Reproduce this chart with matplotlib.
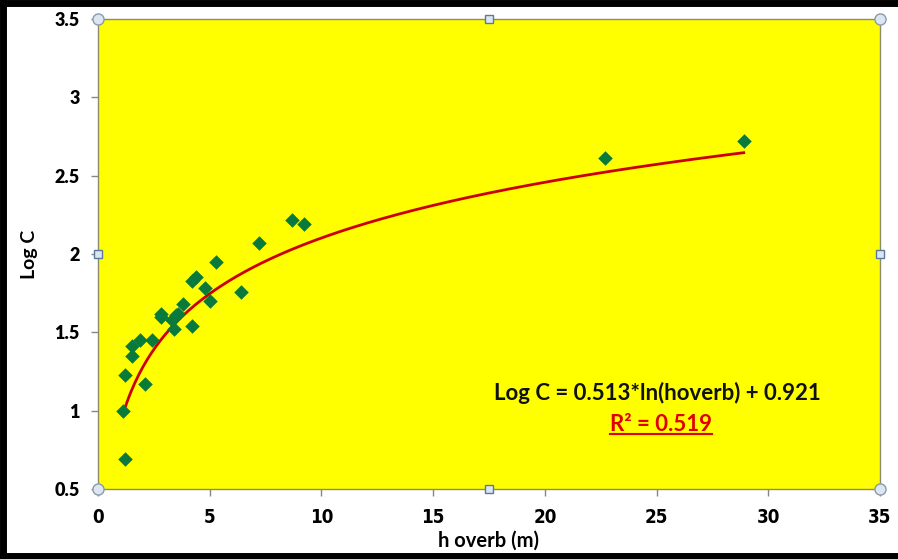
import numpy as np
import matplotlib
matplotlib.use("Agg")
import matplotlib.pyplot as plt
from matplotlib.lines import Line2D

# Data
h_overb = [1.1, 1.2, 1.2, 1.5, 1.5, 1.9, 2.1, 2.4, 2.8, 2.8, 3.4, 3.3, 3.5, 3.6,
           3.8, 4.2, 4.2, 4.4, 4.8, 5.0, 5.3, 6.4, 7.2, 8.7, 9.2, 22.7, 28.9]
log_c = [1.00, 0.69, 1.23, 1.35, 1.41, 1.45, 1.17, 1.45, 1.62, 1.60, 1.52, 1.58,
         1.61, 1.62, 1.68, 1.54, 1.83, 1.85, 1.78, 1.70, 1.95, 1.76, 2.07, 2.22,
         2.19, 2.61, 2.72]
fit_a = 0.513
fit_b = 0.921
r2 = 0.519
x_ticks = [0, 5, 10, 15, 20, 25, 30, 35]
y_ticks = [0.5, 1, 1.5, 2, 2.5, 3, 3.5]

plt.rcParams['font.family'] = ['Lato', 'DejaVu Sans']

fig = plt.figure(figsize=(8.98, 5.59), dpi=100)
fig.patch.set_facecolor('white')
ax = fig.add_axes([98/898, 1-489/559, (880-98)/898, (489-19)/559])
ax.set_facecolor('#ffff00')

ax.scatter(h_overb, log_c, marker='D', s=55, color='#0a7a3c', zorder=3, linewidths=0)
xs = np.linspace(min(h_overb), max(h_overb), 300)
ax.plot(xs, fit_a*np.log(xs) + fit_b, color='#cc0000', lw=2.0, zorder=2)

ax.set_xlim(0, 35)
ax.set_ylim(0.5, 3.5)
ax.set_xticks(x_ticks)
ax.set_yticks(y_ticks)
ax.set_xticklabels([str(v) for v in x_ticks], fontweight='bold', fontsize=13.5,
                   family=['DejaVu Sans'], fontstretch='condensed')
ax.set_yticklabels([('%g' % v) for v in y_ticks], fontweight='heavy', fontsize=13)
ax.tick_params(axis='both', direction='out', length=5, color='#868686', width=1)
ax.tick_params(axis='x', pad=9)
ax.tick_params(axis='y', pad=8)
for sp in ax.spines.values():
    sp.set_color('#8c8c6a')
    sp.set_linewidth(1)

ax.set_xlabel('h overb (m)', fontweight='bold', fontsize=14.5, labelpad=2)
ax.set_ylabel('Log C', fontweight='bold', fontsize=14, labelpad=12)

ax.text(0.715, 0.204, 'Log C = %.3f*ln(hoverb) + %.3f' % (fit_a, fit_b),
        transform=ax.transAxes, ha='center', va='center', fontsize=16,
        fontweight='bold', color='#111111')
t2 = ax.text(0.72, 0.138, 'R² = %.3f' % r2, transform=ax.transAxes,
             ha='center', va='center', fontsize=16, fontweight='bold', color='#e00000')

# selection handles
circ = [(0, 0), (1, 0), (0, 1), (1, 1)]
sq = [(0.5, 0), (0.5, 1), (0, 0.5), (1, 0.5)]
for (px, py) in circ:
    ax.plot(px, py, 'o', transform=ax.transAxes, clip_on=False, ms=8,
            mfc='#dce6f2', mec='#8a9aaa', mew=1, zorder=5)
for (px, py) in sq:
    ax.plot(px, py, 's', transform=ax.transAxes, clip_on=False, ms=6,
            mfc='#dce6f2', mec='#5a7a9a', mew=1, zorder=5)

# underline R^2 text
fig.canvas.draw()
bb = t2.get_window_extent(fig.canvas.get_renderer())
inv = fig.transFigure.inverted()
(x0, y0) = inv.transform((bb.x0, bb.y0 + 1))
(x1, _) = inv.transform((bb.x1, bb.y0 + 1))
fig.add_artist(Line2D([x0, x1], [y0, y0], color='#e00000', lw=1.5, transform=fig.transFigure))

# black frame (screenshot border)
fig.add_artist(Line2D([0, 1], [1 - 2.5/559, 1 - 2.5/559], color='black', lw=5, transform=fig.transFigure))
fig.add_artist(Line2D([3/898, 3/898], [0, 1], color='black', lw=5, transform=fig.transFigure))
fig.add_artist(Line2D([0, 1], [3/559, 3/559], color='black', lw=5, transform=fig.transFigure))

fig.savefig('out.png', dpi=100)
